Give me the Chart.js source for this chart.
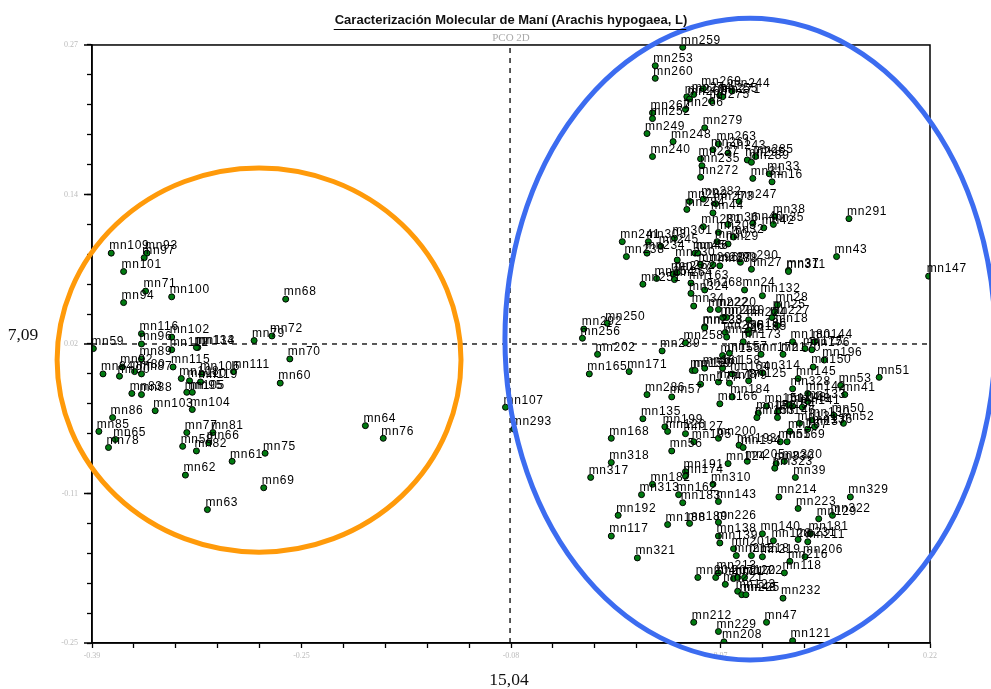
<!DOCTYPE html>
<html><head><meta charset="utf-8">
<style>html,body{margin:0;padding:0;background:#fff}canvas{display:block;filter:blur(0.45px)}</style>
<script src="https://cdn.jsdelivr.net/npm/chart.js@4"></script></head>
<body><canvas id="c" width="991" height="689"></canvas>
<script>
const titleText = 'Caracterización Molecular de Maní (Arachis hypogaea, L)';
const subtitleText = 'PCO 2D';
const xTickLabels = ['-0.39','-0.25','-0.08','0.07','0.22'];
const yTickLabels = ['-0.25','-0.11','0.02','0.14','0.27'];
const xAnnotation = '15,04';
const yAnnotation = '7,09';
const crossX = -0.0857;
const crossY = 0.01;

const leftNames = ['mn109','mn93','mn97','mn101','mn71','mn100','mn94','mn68','mn116','mn102',
 'mn96','mn59','mn113','mn134','mn112','mn79','mn72','mn89','mn70','mn115',
 'mn60','mn111','mn106','mn84','mn90','mn92','mn80','mn87','mn108','mn110',
 'mn119','mn83','mn88','mn105','mn95','mn103','mn104','mn86','mn85','mn65',
 'mn78','mn77','mn81','mn58','mn66','mn82','mn75','mn61','mn62','mn69',
 'mn63','mn64','mn76'];
const leftX = [-.376,-.350,-.352,-.367,-.351,-.332,-.367,-.249,-.354,-.332,
 -.354,-.389,-.313,-.314,-.332,-.272,-.259,-.354,-.246,-.331,
 -.253,-.287,-.310,-.382,-.370,-.368,-.359,-.354,-.325,-.319,
 -.311,-.361,-.354,-.321,-.317,-.344,-.317,-.375,-.385,-.373,
 -.378,-.321,-.302,-.324,-.305,-.314,-.264,-.288,-.322,-.265,
 -.306,-.191,-.178];
const leftY = [.089,.089,.085,.073,.056,.051,.046,.049,.019,.016,
 .010,.006,.007,.007,.005,.013,.017,-.003,-.003,-.010,
 -.024,-.014,-.016,-.016,-.018,-.010,-.014,-.016,-.020,-.022,
 -.023,-.033,-.034,-.032,-.032,-.048,-.047,-.054,-.066,-.073,
 -.080,-.067,-.067,-.079,-.076,-.083,-.085,-.092,-.104,-.115,
 -.134,-.061,-.072];

const midNames = ['mn107','mn293'];
const midX = [-.089,-.083];
const midY = [-.045,-.064];

const rightNames = ['mn259','mn253','mn260','mn269','mn244','mn255','mn271','mn270','mn265','mn274',
 'mn275','mn266','mn267','mn252','mn279','mn249','mn248','mn263','mn240','mn261',
 'mn243','mn237','mn235','mn272','mn285','mn295','mn289','mn33','mn31','mn16',
 'mn247','mn282','mn283','mn273','mn284','mn44','mn291','mn38','mn281','mn36',
 'mn40','mn42','mn35','mn203','mn32','mn30','mn29','mn241','mn303','mn301',
 'mn245','mn238','mn234','mn45','mn46','mn230','mn296','mn287','mn288','mn290',
 'mn27','mn37','mn311','mn257','mn262','mn264','mn254','mn251','mn163','mn324',
 'mn268','mn24','mn43','mn147','mn132','mn34','mn250','mn292','mn256','mn202',
 'mn239','mn165','mn171','mn258','mn222','mn220','mn209','mn210','mn224','mn228',
 'mn233','mn236','mn242','mn186','mn185','mn28','mn25','mn227','mn18','mn173',
 'mn180','mn175','mn176','mn144','mn172','mn170','mn196','mn150','mn145','mn53',
 'mn41','mn51','mn155','mn157','mn158','mn159','mn160','mn161','mn164','mn125',
 'mn314','mn177','mn178','mn179','mn328','mn286','mn57','mn184','mn166','mn151',
 'mn152','mn153','mn154','mn146','mn148','mn149','mn141','mn142','mn133','mn50',
 'mn52','mn130','mn131','mn136','mn137','mn167','mn169','mn55','mn135','mn199',
 'mn126','mn168','mn127','mn200','mn195','mn193','mn194','mn56','mn318','mn317',
 'mn124','mn205','mn330','mn320','mn323','mn39','mn191','mn174','mn310','mn182',
 'mn313','mn162','mn183','mn143','mn214','mn329','mn223','mn322','mn129','mn192',
 'mn188','mn189','mn226','mn117','mn321','mn138','mn139','mn140','mn128','mn231',
 'mn181','mn211','mn201','mn215','mn218','mn219','mn216','mn206','mn118','mn204',
 'mn207','mn213','mn221','mn217','mn120','mn122','mn123','mn225','mn48','mn232',
 'mn212','mn47','mn229','mn208','mn121'];
const rightX = [.040,.020,.020,.055,.076,.067,.069,.043,.045,.048,
 .061,.042,.018,.018,.056,.014,.033,.066,.018,.062,
 .073,.053,.054,.053,.093,.087,.090,.103,.091,.105,
 .081,.055,.045,.064,.043,.062,.161,.107,.055,.073,
 .091,.099,.106,.066,.077,.065,.073,-.004,.015,.034,
 .024,-.001,.014,.049,.051,.036,.053,.062,.067,.082,
 .090,.117,.117,.033,.036,.034,.021,.011,.046,.046,
 .056,.085,.152,.219,.098,.048,-.015,-.032,-.033,-.022,
 .025,-.028,.001,.042,.060,.066,.069,.072,.088,.056,
 .056,.071,.072,.088,.088,.109,.107,.105,.109,.084,
 .120,.129,.134,.136,.097,.113,.143,.135,.124,.155,
 .158,.183,.069,.074,.069,.047,.049,.056,.076,.088,
 .098,.053,.066,.074,.120,.014,.032,.076,.067,.101,
 .095,.094,.109,.109,.117,.120,.127,.131,.131,.150,
 .157,.134,.125,.136,.131,.118,.116,.111,.011,.027,
 .029,-.012,.042,.066,.048,.081,.084,.032,-.012,-.027,
 .073,.087,.108,.114,.107,.122,.042,.042,.062,.018,
 .010,.037,.040,.066,.110,.162,.124,.149,.139,-.007,
 .029,.045,.066,-.012,.007,.066,.067,.098,.106,.124,
 .133,.131,.077,.079,.090,.098,.118,.129,.114,.051,
 .064,.066,.071,.077,.080,.085,.080,.083,.086,.113,
 .048,.101,.066,.070,.120];
const rightY = [.268,.252,.241,.232,.230,.226,.225,.225,.223,.227,
 .221,.214,.211,.206,.198,.193,.186,.184,.173,.179,
 .176,.171,.165,.155,.173,.170,.168,.158,.154,.151,
 .134,.136,.134,.132,.127,.124,.119,.121,.112,.114,
 .115,.111,.114,.107,.103,.099,.097,.099,.099,.102,
 .095,.086,.089,.089,.089,.083,.079,.079,.078,.081,
 .075,.074,.073,.071,.072,.066,.067,.062,.063,.054,
 .057,.057,.086,.069,.052,.043,.028,.023,.015,.001,
 .004,-.016,-.014,.011,.040,.040,.033,.033,.031,.025,
 .024,.020,.016,.022,.019,.044,.038,.033,.026,.012,
 .012,.006,.005,.012,.001,.001,-.004,-.010,-.020,-.026,
 -.034,-.019,0,.002,-.011,-.013,-.013,-.011,-.016,-.022,
 -.015,-.025,-.023,-.024,-.029,-.034,-.036,-.036,-.042,-.044,
 -.050,-.054,-.049,-.054,-.043,-.044,-.045,-.033,-.040,-.052,
 -.059,-.056,-.059,-.062,-.064,-.066,-.075,-.075,-.055,-.062,
 -.066,-.072,-.068,-.072,-.075,-.078,-.080,-.083,-.093,-.106,
 -.094,-.092,-.094,-.092,-.098,-.106,-.101,-.105,-.112,-.112,
 -.121,-.121,-.128,-.127,-.123,-.123,-.133,-.139,-.142,-.139,
 -.147,-.146,-.145,-.157,-.176,-.157,-.163,-.155,-.161,-.160,
 -.155,-.162,-.168,-.174,-.174,-.175,-.179,-.175,-.189,-.193,
 -.193,-.189,-.199,-.194,-.193,-.193,-.205,-.208,-.208,-.211,
 -.232,-.232,-.240,-.249,-.248];

const xBounds = [-0.39, 0.22];
const yBounds = [-0.25, 0.27];
// ellipse: centre x, centre y, radius x, radius y (data units)
const orangeEllipse = [-0.2684, -0.004, 0.147, 0.167];
const blueEllipse = [0.089, 0.0143, 0.1784, 0.279];

const names = [...leftNames, ...midNames, ...rightNames];
const xs = [...leftX, ...midX, ...rightX];
const ys = [...leftY, ...midY, ...rightY];
const points = names.map((n, i) => ({x: xs[i], y: ys[i]}));

function buildTicks(scale, bounds) {
  const out = [];
  for (let i = 0; i <= 20; i++) out.push({value: bounds[0] + (bounds[1] - bounds[0]) * i / 20});
  scale.ticks = out;
}
const fixFit = s => { if (s.isHorizontal()) s.height = 46; else s.width = 92; };

const overlay = {
  id: 'overlay',
  afterDraw(chart) {
    const {ctx, chartArea: a, scales: {x, y}} = chart;
    ctx.save();
    // box
    ctx.strokeStyle = '#000'; ctx.lineWidth = 1.5; ctx.setLineDash([]);
    ctx.strokeRect(a.left, a.top, a.right - a.left, a.bottom - a.top);
    // longer major ticks on the left
    ctx.beginPath();
    yTickLabels.forEach((_, i) => {
      const v = yBounds[0] + (yBounds[1] - yBounds[0]) * i / 4;
      ctx.moveTo(a.left, y.getPixelForValue(v)); ctx.lineTo(a.left - 8, y.getPixelForValue(v));
    });
    ctx.stroke();
    // point labels
    ctx.fillStyle = '#000';
    ctx.font = "12px 'Liberation Sans'";
    ctx.letterSpacing = '0.7px';
    ctx.textAlign = 'left'; ctx.textBaseline = 'middle';
    points.forEach((p, i) => ctx.fillText(names[i], x.getPixelForValue(p.x) - 2, y.getPixelForValue(p.y) - 7));
    ctx.letterSpacing = '0px';
    // ellipses
    [[orangeEllipse, '#ff9a0a'], [blueEllipse, '#3c6cf0']].forEach(([e, col]) => {
      const cx = x.getPixelForValue(e[0]), cy = y.getPixelForValue(e[1]);
      const rx = x.getPixelForValue(e[0] + e[2]) - cx, ry = cy - y.getPixelForValue(e[1] + e[3]);
      ctx.beginPath(); ctx.ellipse(cx, cy, rx, ry, 0, 0, Math.PI * 2);
      ctx.strokeStyle = col; ctx.lineWidth = 5; ctx.stroke();
    });
    // axis annotations
    ctx.fillStyle = '#111';
    ctx.font = "17.5px 'Liberation Serif'";
    ctx.textAlign = 'center'; ctx.textBaseline = 'middle';
    ctx.fillText(yAnnotation, 23, y.getPixelForValue(crossY) - 9);
    ctx.fillText(xAnnotation, x.getPixelForValue(crossX) - 1, 680);
    // title underline
    ctx.font = "bold 13px 'Liberation Sans'";
    const w = ctx.measureText(titleText).width;
    ctx.strokeStyle = '#000'; ctx.lineWidth = 1;
    ctx.beginPath(); ctx.moveTo(510 - w / 2, 29.5); ctx.lineTo(510 + w / 2, 29.5); ctx.stroke();
    ctx.restore();
  }
};

new Chart(document.getElementById('c'), {
  type: 'scatter',
  plugins: [overlay],
  data: {datasets: [
    {label: 'PCO', data: points, backgroundColor: '#007a10', borderColor: '#000', borderWidth: 1, pointRadius: 3, order: 1},
    {label: 'h', data: [{x: xBounds[0], y: crossY}, {x: xBounds[1], y: crossY}], showLine: true, borderColor: '#000', borderWidth: 1.3, borderDash: [5, 5], pointRadius: 0, order: 2},
    {label: 'v', data: [{x: crossX, y: yBounds[0]}, {x: crossX, y: yBounds[1]}], showLine: true, borderColor: '#000', borderWidth: 1.3, borderDash: [5, 5], pointRadius: 0, order: 2}
  ]},
  options: {
    responsive: false, animation: false, devicePixelRatio: 1,
    layout: {padding: {left: 0, right: 61, top: 7, bottom: 0}},
    plugins: {
      legend: {display: false}, tooltip: {enabled: false},
      title: {display: true, fullSize: false, text: titleText, color: '#111', font: {family: "'Liberation Sans'", size: 13, weight: 'bold', lineHeight: 1.2}, padding: {top: 6, bottom: 3.4}},
      subtitle: {display: true, fullSize: false, text: subtitleText, color: '#aaa', font: {family: "'Liberation Serif'", size: 11, lineHeight: 1.18}, padding: 0}
    },
    scales: {
      x: {type: 'linear', min: xBounds[0], max: xBounds[1], afterBuildTicks: s => buildTicks(s, xBounds), afterFit: fixFit,
        border: {color: '#000', width: 1.5},
        grid: {drawOnChartArea: false, tickLength: 5, tickColor: '#000', tickWidth: 1.3},
        ticks: {autoSkip: false, maxRotation: 0, padding: 3, color: '#bbb', font: {family: "'Liberation Serif'", size: 8},
          callback: (v, i) => i % 5 === 0 ? xTickLabels[i / 5] : ''}},
      y: {type: 'linear', min: yBounds[0], max: yBounds[1], afterBuildTicks: s => buildTicks(s, yBounds), afterFit: fixFit,
        border: {color: '#000', width: 1.5},
        grid: {drawOnChartArea: false, tickLength: 5, tickColor: '#000', tickWidth: 1.3},
        ticks: {autoSkip: false, padding: 9, color: '#bbb', font: {family: "'Liberation Serif'", size: 8},
          callback: (v, i) => i % 5 === 0 ? yTickLabels[i / 5] : ''}}
    }
  }
});
</script></body></html>
